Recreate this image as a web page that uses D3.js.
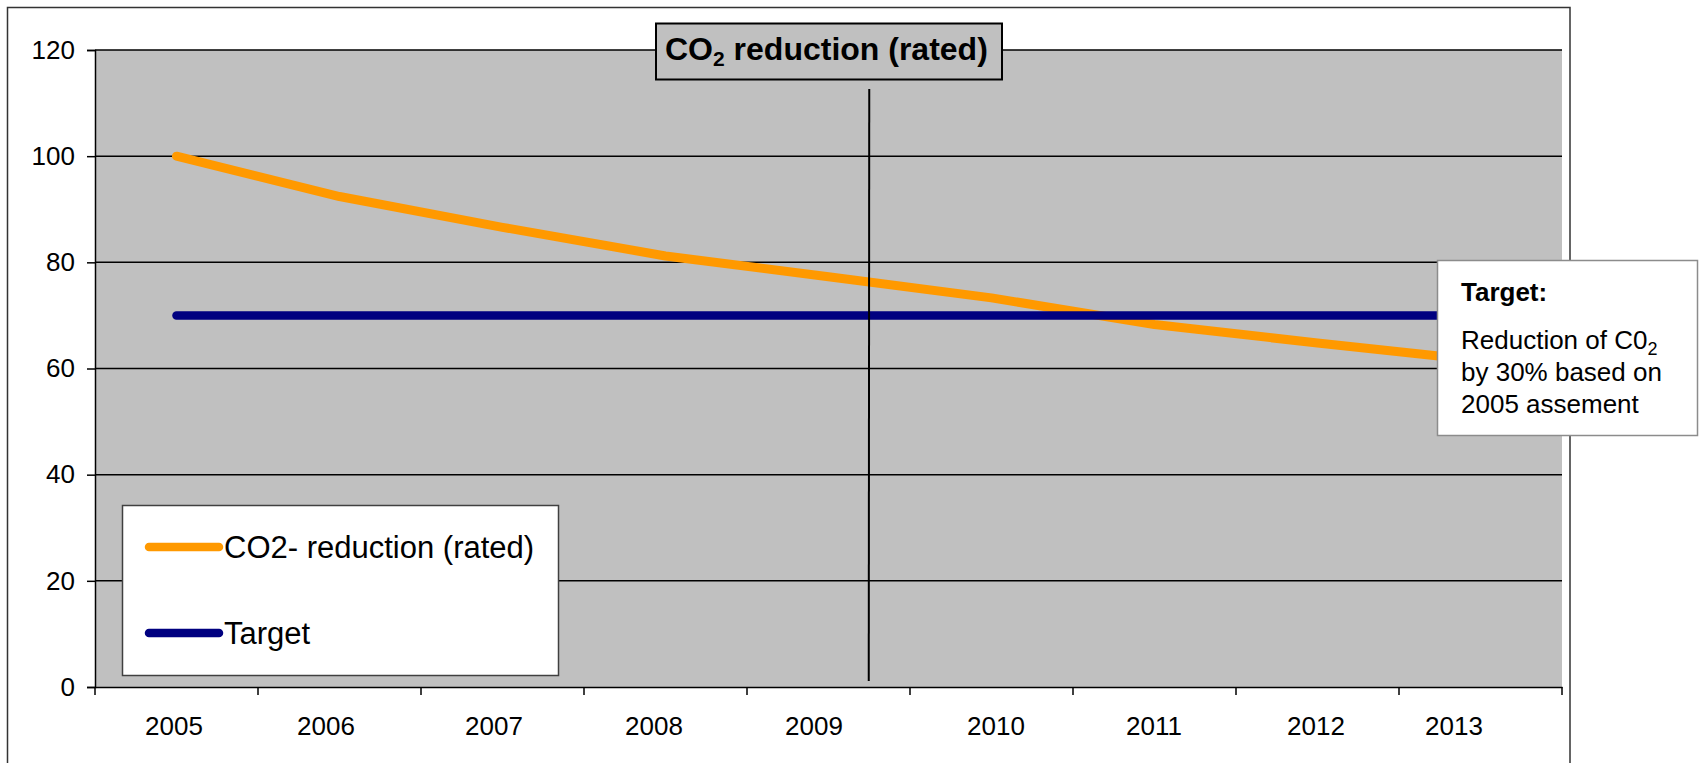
<!DOCTYPE html>
<html>
<head>
<meta charset="utf-8">
<script src="https://cdn.jsdelivr.net/npm/d3@7"></script>
<style>
  html, body { margin: 0; padding: 0; background: #ffffff; }
  svg { display: block; font-family: "Liberation Sans", Arial, Helvetica, sans-serif; }
</style>
</head>
<body>
<svg id="chart" width="1702" height="763"></svg>
<script>
// ---- data ----
const years = ["2005", "2006", "2007", "2008", "2009", "2010", "2011", "2012", "2013"];
const co2Reduction = [100, 92.4, 86.6, 81.2, 77.3, 73.3, 68.3, 64.8, 61.5];
const targetLevel = [70, 70, 70, 70, 70, 70, 70, 70, 70];
const yTickValues = [0, 20, 40, 60, 80, 100, 120];
const seriesNames = ["CO2- reduction (rated)", "Target"];

// ---- layout ----
const W = 1702, H = 763;
const plot = { left: 95, top: 50, right: 1562, bottom: 687 };
const colors = { co2: "#FF9900", target: "#000080", plotBg: "#C0C0C0" };
// small horizontal shifts applied to the category labels
const labelShift = [-2.5, -13.5, -8.5, -11.5, -14.5, 4.5, -0.5, -1.5, -26.5];

const svg = d3.select("#chart");

const x = d3.scaleBand().domain(years).range([plot.left, plot.right]).padding(0);
const xIndex = d3.scaleLinear().domain([0, years.length - 1])
  .range([x(years[0]) + x.bandwidth() / 2, x(years[years.length - 1]) + x.bandwidth() / 2]);
const y = d3.scaleLinear().domain([0, 120]).range([plot.bottom, plot.top]);

// chart frame
svg.append("rect")
  .attr("x", 7.5).attr("y", 7.5)
  .attr("width", 1570 - 7.5).attr("height", H + 20)
  .attr("fill", "#ffffff").attr("stroke", "#333333").attr("stroke-width", 1.5);

// plot background
svg.append("rect")
  .attr("x", plot.left).attr("y", plot.top)
  .attr("width", plot.right - plot.left).attr("height", plot.bottom - plot.top)
  .attr("fill", colors.plotBg);

// horizontal gridlines
svg.append("g")
  .selectAll("line")
  .data(yTickValues.filter(v => v > 0))
  .join("line")
  .attr("x1", plot.left).attr("x2", plot.right)
  .attr("y1", d => y(d)).attr("y2", d => y(d))
  .attr("stroke", "#000").attr("stroke-width", 1.5);

// y axis
const yAxis = svg.append("g")
  .attr("transform", `translate(${plot.left},0)`)
  .call(d3.axisLeft(y).tickValues(yTickValues).tickSize(8).tickPadding(12).tickFormat(d3.format("d")));
yAxis.select(".domain").attr("stroke", "#000").attr("stroke-width", 1.5);
yAxis.selectAll(".tick line").attr("stroke", "#000").attr("stroke-width", 1.5);
yAxis.selectAll(".tick text")
  .attr("font-size", 26).attr("fill", "#000")
  .attr("font-family", "'Liberation Sans', Arial, sans-serif");

// x axis: labels centred in each category, tick marks on the category edges
const xAxis = svg.append("g")
  .attr("transform", `translate(0,${plot.bottom})`)
  .call(d3.axisBottom(x).tickSize(0).tickPadding(30));
xAxis.select(".domain").attr("stroke", "#000").attr("stroke-width", 1.5);
xAxis.selectAll(".tick text")
  .attr("font-size", 26).attr("fill", "#000")
  .attr("font-family", "'Liberation Sans', Arial, sans-serif")
  .attr("dx", (d, i) => labelShift[i]);

const edges = years.map(d => x(d)).concat([x(years[years.length - 1]) + x.bandwidth()]);
svg.append("g")
  .selectAll("line")
  .data(edges)
  .join("line")
  .attr("x1", d => d).attr("x2", d => d)
  .attr("y1", plot.bottom).attr("y2", plot.bottom + 8)
  .attr("stroke", "#000").attr("stroke-width", 1.5);

// series lines
const line = d3.line()
  .x((d, i) => x(years[i]) + x.bandwidth() / 2)
  .y(d => y(d));

svg.append("path")
  .datum(co2Reduction)
  .attr("d", line)
  .attr("fill", "none")
  .attr("stroke", colors.co2)
  .attr("stroke-width", 9)
  .attr("stroke-linejoin", "round")
  .attr("stroke-linecap", "round");

svg.append("path")
  .datum(targetLevel)
  .attr("d", line)
  .attr("fill", "none")
  .attr("stroke", colors.target)
  .attr("stroke-width", 8.5)
  .attr("stroke-linejoin", "round")
  .attr("stroke-linecap", "round");

// vertical divider between measured and projected years
const dividerX = xIndex(4.25);
svg.append("line")
  .attr("x1", dividerX).attr("x2", dividerX - 0.5)
  .attr("y1", 89).attr("y2", 681)
  .attr("stroke", "#000").attr("stroke-width", 2);

// title box
const titleG = svg.append("g");
titleG.append("rect")
  .attr("x", 656).attr("y", 23.5)
  .attr("width", 346).attr("height", 56)
  .attr("fill", colors.plotBg).attr("stroke", "#000").attr("stroke-width", 2);
const title = titleG.append("text")
  .attr("x", 665).attr("y", 60)
  .attr("font-size", 32).attr("font-weight", "bold").attr("fill", "#000");
title.append("tspan").text("CO");
title.append("tspan").attr("font-size", 21).attr("dy", 6).text("2");
title.append("tspan").attr("dy", -6).text(" reduction (rated)");

// legend
const legend = svg.append("g");
legend.append("rect")
  .attr("x", 122.5).attr("y", 505.5)
  .attr("width", 436).attr("height", 170)
  .attr("fill", "#ffffff").attr("stroke", "#404040").attr("stroke-width", 1.5);
const legendItems = [
  { name: seriesNames[0], color: colors.co2, y: 547 },
  { name: seriesNames[1], color: colors.target, y: 633 }
];
legendItems.forEach(it => {
  legend.append("line")
    .attr("x1", 149).attr("x2", 219)
    .attr("y1", it.y).attr("y2", it.y)
    .attr("stroke", it.color).attr("stroke-width", 8.5)
    .attr("stroke-linecap", "round");
  legend.append("text")
    .attr("x", 224).attr("y", it.y + 11)
    .attr("font-size", 31).attr("fill", "#000")
    .text(it.name);
});

// target note
const note = svg.append("g");
note.append("rect")
  .attr("x", 1437.5).attr("y", 260.5)
  .attr("width", 260).attr("height", 175)
  .attr("fill", "#ffffff").attr("stroke", "#8c8c8c").attr("stroke-width", 1.5);
note.append("text")
  .attr("x", 1461).attr("y", 301)
  .attr("font-size", 26).attr("font-weight", "bold").attr("fill", "#000")
  .text("Target:");
const l1 = note.append("text")
  .attr("x", 1461).attr("y", 349)
  .attr("font-size", 26).attr("fill", "#000");
l1.append("tspan").text("Reduction of C0");
l1.append("tspan").attr("font-size", 18).attr("dy", 6).text("2");
note.append("text")
  .attr("x", 1461).attr("y", 381)
  .attr("font-size", 26).attr("fill", "#000")
  .text("by 30% based on");
note.append("text")
  .attr("x", 1461).attr("y", 413)
  .attr("font-size", 26).attr("fill", "#000")
  .text("2005 assement");
</script>
</body>
</html>
